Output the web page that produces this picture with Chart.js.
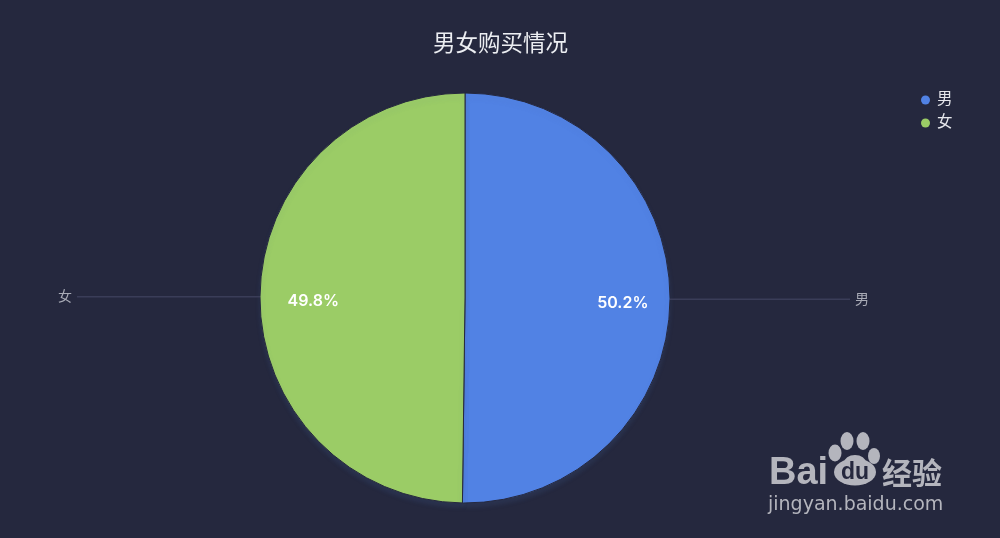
<!DOCTYPE html>
<html>
<head>
<meta charset="utf-8">
<style>
html, body { margin: 0; padding: 0; background: #25283e; }
#wrap { position: relative; width: 1000px; height: 538px; overflow: hidden; }
</style>
<script src="https://cdn.jsdelivr.net/npm/chart.js@4"></script>
</head>
<body>
<div id="wrap"><canvas id="pie" width="1000" height="538"></canvas></div>
<script>
// --- Chart data ---
const chartTitle = '男女购买情况';
const categories = ['男', '女'];
const percentValues = [50.2, 49.8];
const sliceColors = ['#5182e4', '#9bcc66'];

const cnFont = '"Noto Sans CJK SC", "Noto Sans", sans-serif';
const bgColor = '#25283e';

// soft coloured shadow under the pie
const pieShadow = {
    id: 'pieShadow',
    beforeDatasetDraw(chart) {
        const ctx = chart.ctx;
        ctx.save();
        ctx.shadowColor = 'rgba(70, 100, 150, 0.2)';
        ctx.shadowBlur = 5;
        ctx.shadowOffsetY = 4;
    },
    afterDatasetDraw(chart) {
        chart.ctx.restore();
    }
};

// title, legend, leader lines, percent labels
const pieDecor = {
    id: 'pieDecor',
    afterDraw(chart) {
        const ctx = chart.ctx;
        const arcs = chart.getDatasetMeta(0).data;

        ctx.save();
        ctx.textBaseline = 'middle';

        ctx.fillStyle = '#eceef2';
        ctx.textAlign = 'center';
        ctx.font = '22.5px ' + cnFont;
        ctx.fillText(chartTitle, 500.5, 42);

        categories.forEach((name, i) => {
            const arc = arcs[i];
            const mid = (arc.startAngle + arc.endAngle) / 2;
            const right = Math.cos(mid) > 0;
            const y = arc.y + Math.sin(mid) * arc.outerRadius;
            const edgeX = arc.x + Math.cos(mid) * arc.outerRadius;

            // leader line
            ctx.strokeStyle = '#3a3d58';
            ctx.lineWidth = 1.5;
            ctx.beginPath();
            ctx.moveTo(edgeX, y);
            ctx.lineTo(right ? 850 : 77, y);
            ctx.stroke();

            // outer label
            ctx.fillStyle = '#a9abb6';
            ctx.font = '14px ' + cnFont;
            ctx.textAlign = 'center';
            ctx.fillText(name, right ? 862 : 65, y - 1);

            // percent inside the slice
            const r = arc.outerRadius * (right ? 0.77 : 0.74);
            ctx.fillStyle = '#ffffff';
            ctx.font = '600 16px Inter, "Noto Sans", sans-serif';
            ctx.fillText(percentValues[i].toFixed(1) + '%', arc.x + Math.cos(mid) * r, arc.y + Math.sin(mid) * r + 4);

            // legend
            const ly = 99 + i * 23;
            ctx.fillStyle = sliceColors[i];
            ctx.beginPath();
            ctx.arc(925.5, ly + 1, 4.5, 0, Math.PI * 2);
            ctx.fill();
            ctx.fillStyle = '#e6e7ec';
            ctx.font = '15.5px ' + cnFont;
            ctx.textAlign = 'left';
            ctx.fillText(name, 937, ly - 1);
        });

        drawWatermark(ctx);
        ctx.restore();
    }
};

// the site's stamp in the lower right corner
function drawWatermark(ctx) {
    const mark = '#b4b5bd';
    ctx.fillStyle = mark;
    ctx.textAlign = 'left';
    ctx.font = 'bold 38px "Liberation Sans", Arial, sans-serif';
    ctx.fillText('Bai', 769, 474);
    ctx.font = 'bold 30px "Noto Sans CJK SC", sans-serif';
    ctx.fillText('经验', 882, 473);
    ctx.font = '19px "DejaVu Sans", sans-serif';
    ctx.fillText('jingyan.baidu.com', 768, 505);

    // paw
    [[835, 453, 6.5, 8.5], [847, 441, 6.5, 9], [863, 441, 6.5, 9], [874, 456, 6, 8]].forEach(p => {
        ctx.beginPath();
        ctx.ellipse(p[0], p[1], p[2], p[3], 0, 0, Math.PI * 2);
        ctx.fill();
    });
    ctx.beginPath();
    ctx.ellipse(855, 472, 21, 13.5, 0, 0, Math.PI * 2);
    ctx.fill();
    ctx.beginPath();
    ctx.ellipse(855, 463, 11, 8, 0, 0, Math.PI * 2);
    ctx.fill();
    ctx.fillStyle = bgColor;
    ctx.font = 'bold 23px "Liberation Sans", Arial, sans-serif';
    ctx.textAlign = 'center';
    ctx.fillText('du', 855, 473);
}

const pieChart = new Chart(document.getElementById('pie').getContext('2d'), {
    type: 'pie',
    data: {
        labels: categories,
        datasets: [{
            data: percentValues,
            backgroundColor: sliceColors,
            borderColor: bgColor,
            borderWidth: 1
        }]
    },
    options: {
        responsive: false,
        animation: false,
        devicePixelRatio: 1,
        layout: { padding: { left: 259.5, right: 329.5, top: 92.5, bottom: 34.5 } },
        plugins: {
            legend: { display: false },
            title: { display: false },
            tooltip: { enabled: false }
        }
    },
    plugins: [pieShadow, pieDecor]
});
</script>
</body>
</html>
